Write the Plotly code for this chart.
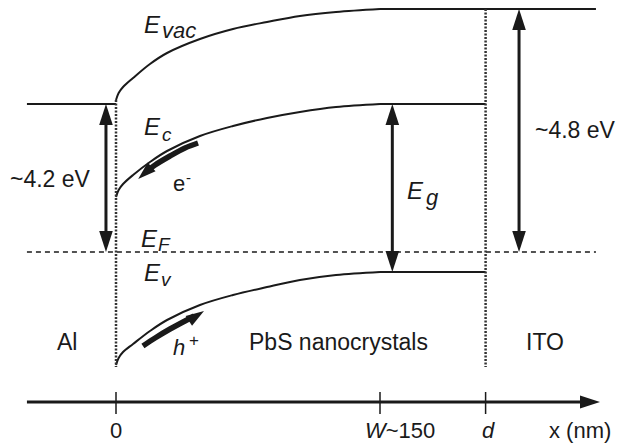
import plotly.graph_objects as go

# ---------------- data (x in nm, energy in arbitrary schematic units, E_F = 0) -------------
X_NM = [0, 1.5, 4, 9.7, 19.3, 29, 47.7, 66.5, 85.8, 104.5, 125, 150, 210]
E_VAC = [152, 159, 165, 174, 188, 199, 213, 223, 230, 236, 240, 243, 243]
E_C = [55, 62, 68, 77, 90, 101, 116, 126, 134, 140, 145, 148, 148]
E_V = [-113, -106, -100, -92, -79, -68, -53, -43, -35, -28, -23, -20, -20]

W_NM = 150
D_NM = 210
X_LEFT = -50.6
X_RIGHT = 272.7
E_F = 0
AL_LEVEL = 148
ITO_LEVEL = 243

TICK_VALS = [0, W_NM, D_NM]
TICK_TEXT = ["0", "<i>W</i>~150", "<i>d</i>"]

# curved carrier arrows (drawn just below E_c and E_v); last point = arrow tip
E_ARROW_X = [46.6, 39.2, 30.7, 22.2, 17.0, 12.6]
E_ARROW_Y = [109, 104, 96, 87, 80, 73]
E_ARROW_ANGLE = 228
H_ARROW_X = [15.3, 22.2, 30.7, 39.2, 44.5, 50.0]
H_ARROW_Y = [-94, -86, -77, -69, -64, -59]
H_ARROW_ANGLE = 57

FONT = "Liberation Sans, Arial, sans-serif"
INK = "#1a1a1a"

fig = go.Figure()


def line(x, y, width=2, dash=None, color=INK, shape="linear"):
    fig.add_trace(go.Scatter(x=x, y=y, mode="lines", hoverinfo="skip", showlegend=False,
                             line=dict(color=color, width=width, dash=dash, shape=shape,
                                       smoothing=1.0)))


def heads(x, y, angles, size=20):
    fig.add_trace(go.Scatter(x=x, y=y, mode="markers", hoverinfo="skip", showlegend=False,
                             marker=dict(symbol="arrow", size=size, angle=angles, color=INK,
                                         line=dict(width=0))))


# band edges (bent part smooth, flat part straight)
line(X_NM[:-1], E_VAC[:-1], width=2, shape="spline")
line([X_NM[-2], X_NM[-1], X_RIGHT], [E_VAC[-2], E_VAC[-1], ITO_LEVEL], width=2)
line(X_NM[:-1], E_C[:-1], width=2, shape="spline")
line(X_NM[-2:], E_C[-2:], width=2)
line(X_NM[:-1], E_V[:-1], width=2, shape="spline")
line(X_NM[-2:], E_V[-2:], width=2)
# Al level
line([X_LEFT, 0], [AL_LEVEL, AL_LEVEL], width=2)
# Fermi level
line([X_LEFT, X_RIGHT], [E_F, E_F], width=1.5, dash="5px,4px")
# interfaces
line([0, 0], [E_VAC[0], E_V[0] - 2], width=2.5, dash="2px,1.5px", color="#333")
line([D_NM, D_NM], [ITO_LEVEL, E_V[0] - 2], width=2.5, dash="2px,1.5px", color="#333")

# double arrows: (x, bottom, top)
for ax_, lo, hi in [(-5.7, E_F, AL_LEVEL), (157, E_V[-1], E_C[-1]), (229, E_F, ITO_LEVEL)]:
    line([ax_, ax_], [lo + 8, hi - 8], width=3)
    heads([ax_, ax_], [hi, lo], [0, 180], size=22)

# carrier arrows: thick curved shaft + separate head at the tip
for xs, ys, ang in [(E_ARROW_X, E_ARROW_Y, E_ARROW_ANGLE), (H_ARROW_X, H_ARROW_Y, H_ARROW_ANGLE)]:
    line(xs[:-1], ys[:-1], width=5.5, shape="spline")
    heads([xs[-1]], [ys[-1]], [ang], size=19)

# x axis drawn as an arrow
AX_Y = -150
line([X_LEFT, 268], [AX_Y, AX_Y], width=3)
heads([275], [AX_Y], [90], size=21)
for tv in TICK_VALS:
    line([tv, tv], [AX_Y + 10, AX_Y - 12], width=1.5)

ann = []


def txt(x, y, s, size=23, italic=False, xanchor="center"):
    if italic:
        s = "<i>" + s + "</i>"
    ann.append(dict(x=x, y=y, text=s, showarrow=False, xanchor=xanchor, yanchor="middle",
                    font=dict(family=FONT, size=size, color=INK)))


tick_x = [0, 161.4, 211.4]
for xv, t in zip(tick_x, TICK_TEXT):
    txt(xv, -178, t, size=22)
txt(263.6, -178, "x (nm)", size=22)

txt(-37.2, 73, "~4.2 eV")
txt(260.8, 122, "~4.8 eV")
# band labels: main letter + subscript, left anchored
txt(164.3, 62, "E", size=24, italic=True, xanchor="left")
txt(175.0, 55, "g", size=22, italic=True, xanchor="left")
txt(14.8, 228, "E", size=24, italic=True, xanchor="left")
txt(25.0, 222, "vac", size=22, italic=True, xanchor="left")
txt(14.8, 126, "E", size=24, italic=True, xanchor="left")
txt(25.0, 118, "c", size=19, italic=True, xanchor="left")
txt(13.1, 14, "E", size=24, italic=True, xanchor="left")
txt(22.6, 8, "F", size=19, italic=True, xanchor="left")
txt(14.8, -20, "E", size=24, italic=True, xanchor="left")
txt(24.4, -27, "v", size=19, italic=True, xanchor="left")
txt(35.8, 69, "e", size=22)
txt(41.2, 75, "-", size=15)
txt(35.8, -95, "h", size=22, italic=True)
txt(44.3, -88, "+", size=17)
txt(-27.8, -90, "Al")
txt(126.7, -90, "PbS nanocrystals")
txt(243.8, -90, "ITO")

fig.update_layout(
    width=626, height=444,
    margin=dict(l=0, r=0, t=0, b=0),
    paper_bgcolor="white", plot_bgcolor="white",
    showlegend=False,
    annotations=ann,
    xaxis=dict(range=[-116 / 1.76, 510 / 1.76], visible=False, fixedrange=True),
    yaxis=dict(range=[-192, 252], visible=False, fixedrange=True),
)

fig.write_html("out.html")
